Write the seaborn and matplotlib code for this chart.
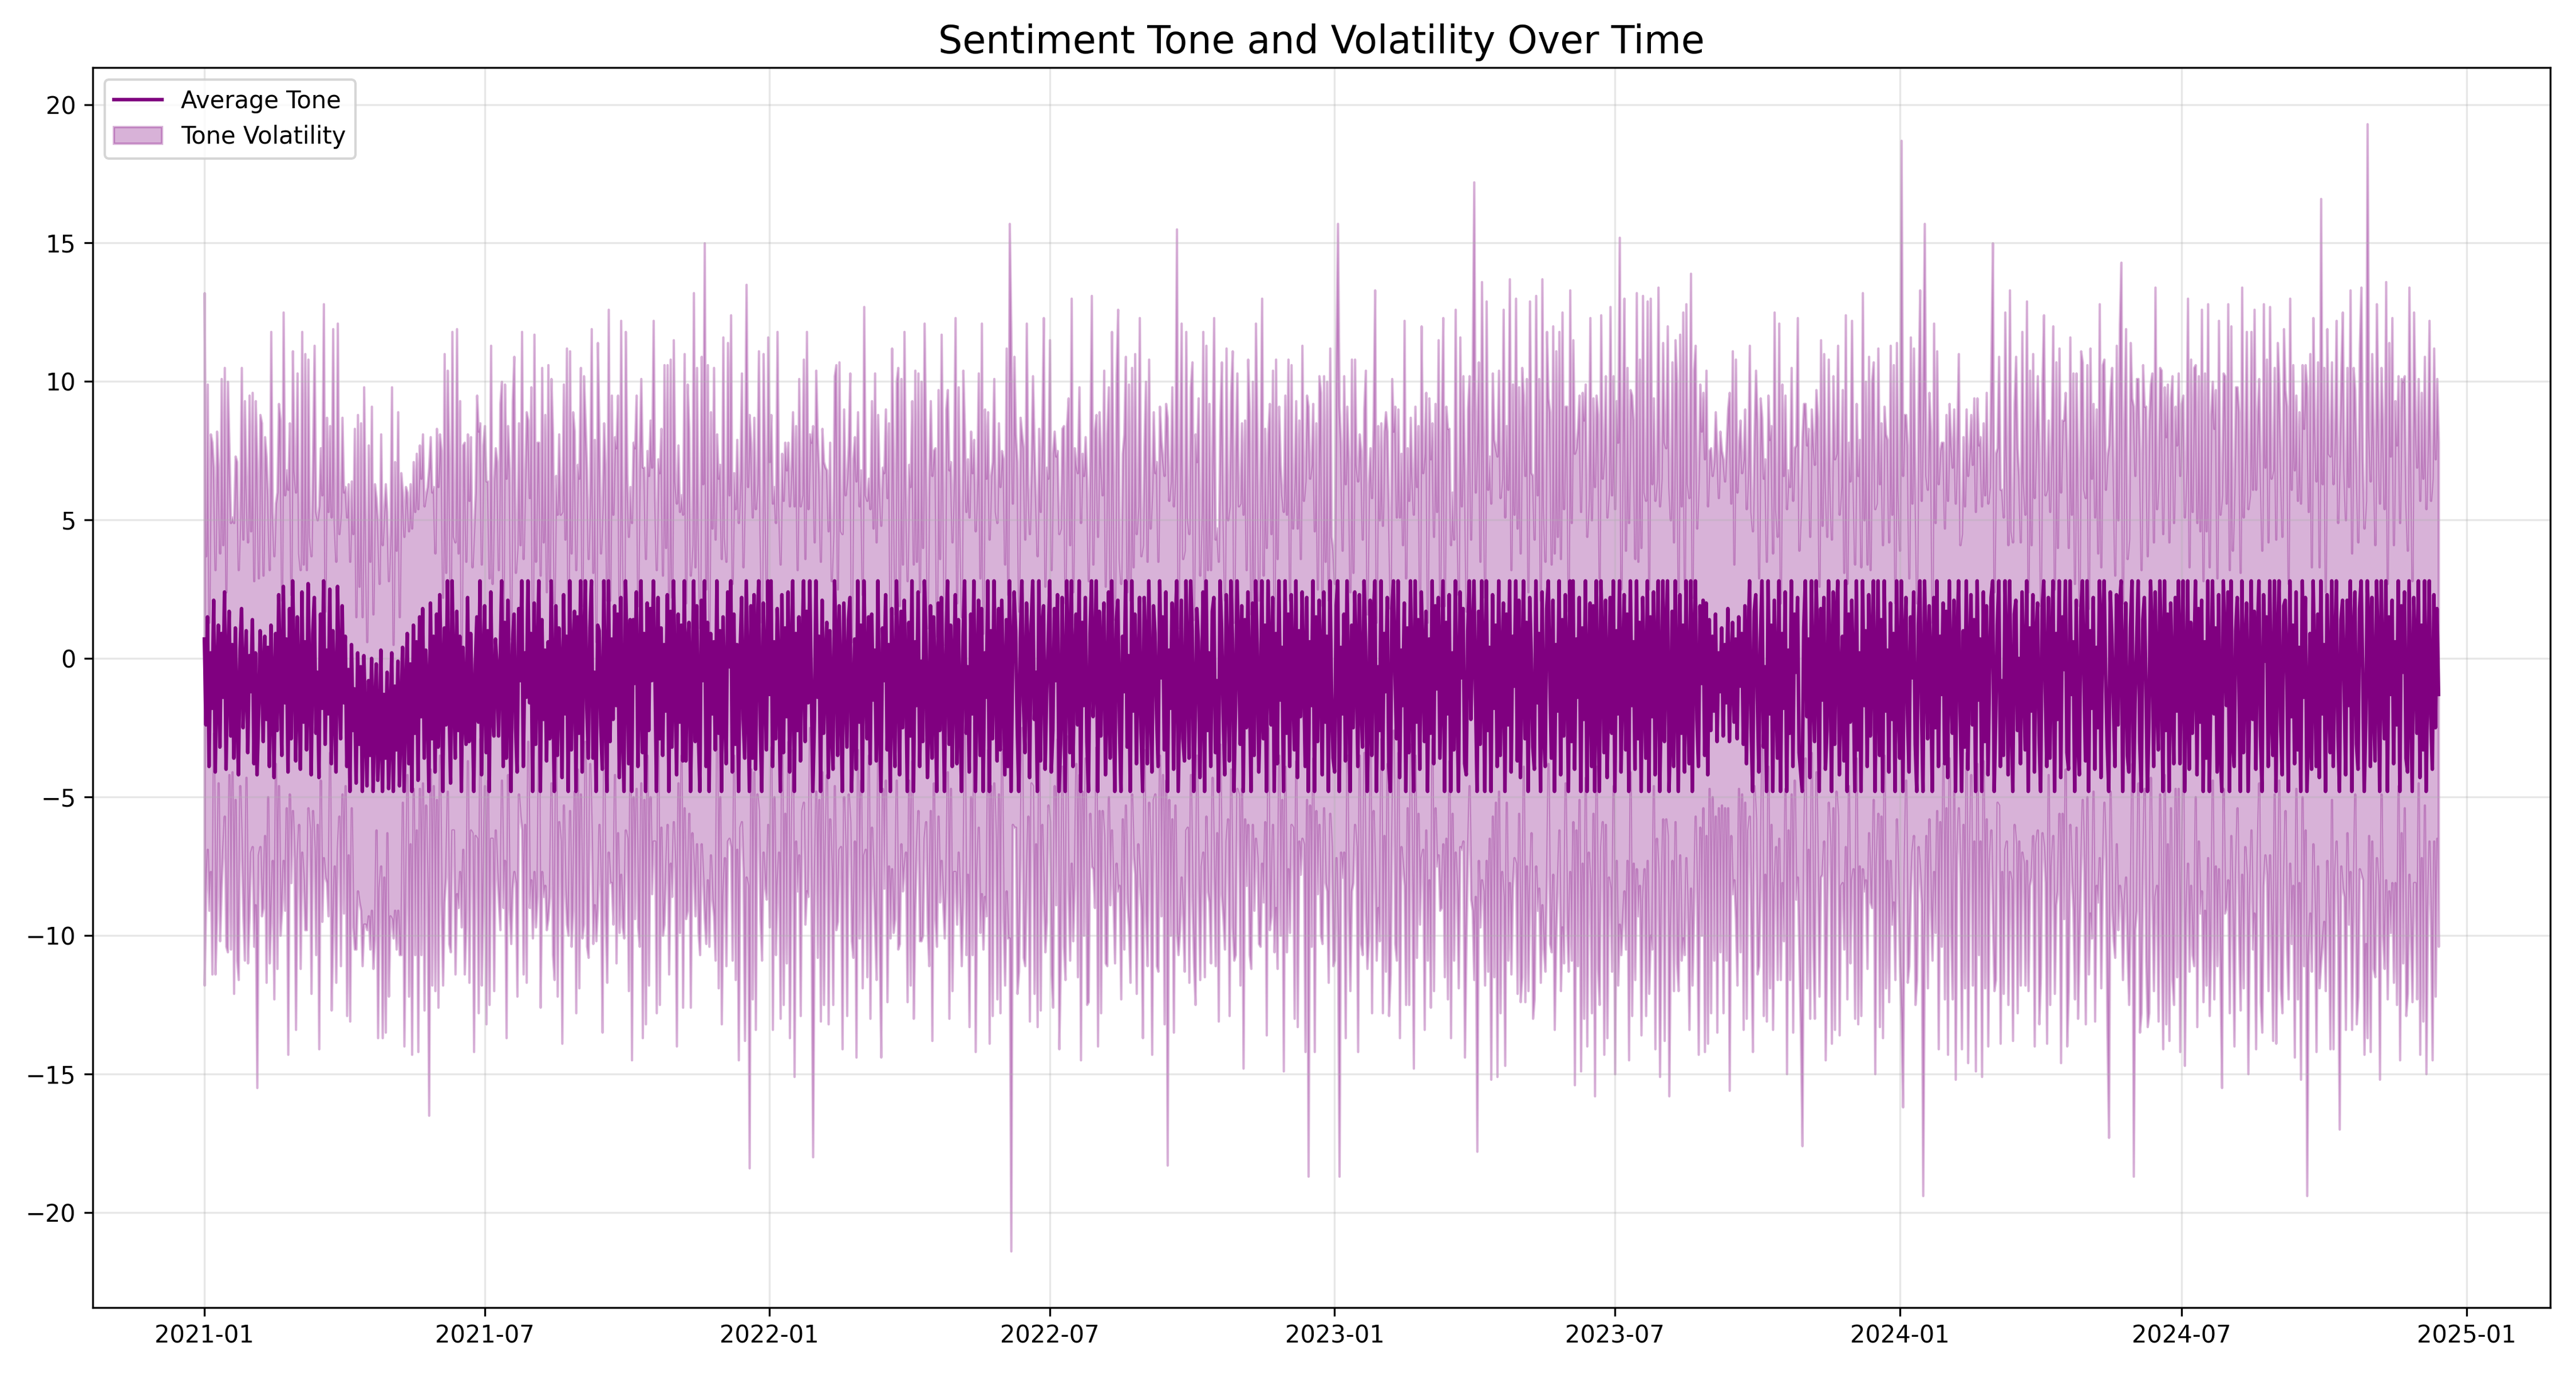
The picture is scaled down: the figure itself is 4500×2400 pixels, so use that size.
import matplotlib
matplotlib.use('Agg')
import numpy as np
import pandas as pd
import matplotlib.pyplot as plt
import seaborn as sns

# ==========================================
# DAILY SENTIMENT DATA (10 days per row)
# ==========================================
start_date = '2021-01-01'

# average tone per day (clipped at 2.8 / -4.8)
tone_2021 = [
    0.7, -2.4, 1.5, -3.9, 0.2, -1.8, 2.1, -4.1, -0.6, 1.2,
    -3.2, 0.9, -1.4, 2.4, -4.0, -0.3, 1.7, -2.8, 0.5, -3.6,
    1.1, -1.9, -4.2, 0.3, 1.8, -2.5, -0.8, 1.0, -3.4, 0.1,
    -1.2, 1.4, -3.8, 0.2, -4.2, -2.1, 1.0, -0.4, -3.0, 0.8,
    -2.2, 0.4, -3.9, 1.2, -1.0, -4.3, 0.9, -2.6, 2.3, -0.7,
    -3.5, 2.6, -1.6, 0.7, -4.1, 1.8, -2.9, 2.8, -0.2, -3.7,
    1.5, -1.1, -4.0, 2.4, -2.3, 0.6, -3.3, 2.7, -0.9, -4.2,
    0.9, 2.2, -2.7, -0.5, -4.3, 1.6, -1.8, 2.8, -3.1, 0.3,
    -2.0, 2.5, -3.8, 1.0, -1.3, -4.1, 2.6, -0.6, -2.9, 1.9,
    -1.6, 0.8, -3.9, -0.4, -4.8, 0.5, -2.6, -1.1, -4.5, 0.2,
    -3.1, -0.3, -4.8, 0.1, -2.2, -4.6, -0.8, -3.5, 0.0, -4.8,
    -1.9, -0.2, -4.4, -2.8, 0.3, -4.8, -1.3, -3.6, -0.5, -4.7,
    -2.4, 0.2, -4.8, -1.0, -3.3, -0.1, -4.6, -2.0, 0.4, -4.8,
    -1.5, 0.9, -3.8, -0.2, -4.8, 1.2, -2.7, 0.6, -4.4, 1.5,
    -2.1, 1.8, -3.6, 0.3, -1.2, -4.8, 2.0, -2.9, 0.8, -4.1,
    1.6, -3.2, 2.3, -0.7, -4.8, 1.1, -2.4, 2.8, -1.5, -4.5,
    2.8, -0.9, -3.6, 1.7, -2.6, 0.8, -4.8, 0.4, -1.8, -3.1,
    2.2, -3.0, 0.9, -1.5, -4.8, -0.2, 1.5, -2.3, 2.8, -4.2,
    -0.6, 1.9, -3.4, 1.0, -4.8, 2.4, -1.9, -2.8, 0.7, -0.3,
    -2.8, -0.3, 2.8, -3.9, 1.3, -3.6, 2.1, -1.1, -4.8, 0.5,
    1.6, -2.5, -4.1, 1.8, -0.8, 2.8, -3.9, 0.2, -1.4, 2.8,
    -1.6, 0.9, -4.8, 2.0, -3.1, -0.4, 2.8, -4.8, 1.4, -2.2,
    0.3, -3.7, 0.6, -2.9, 2.8, -1.3, -4.8, 1.9, -3.5, 1.1,
    -0.7, -4.3, 2.3, -2.0, 0.8, -4.8, 2.8, -3.3, -0.1, 1.7,
    -4.8, 1.5, -2.7, 2.8, -4.1, 0.3, 2.8, -1.8, -3.6, 1.1,
    2.8, -3.6, -0.5, -4.8, 1.2, 1.0, -2.4, -4.0, 2.8, -1.2,
    -4.8, 2.8, -3.0, 0.7, -2.2, 1.9, -1.7, 1.6, -4.3, 2.2,
    -2.2, -4.8, 2.8, 0.1, -3.8, 1.4, -4.8, 1.4, -0.9, 2.4,
    -3.9, -1.5, 2.8, -3.4, 0.9, -4.8, 2.0, -2.6, 1.8, -0.8,
    2.8, -0.4, -4.8, 2.2, -2.9, 1.1, -3.5, 0.5, -1.9, 2.3,
    -4.8, 1.7, -3.2, 2.8, -0.6, -4.2, 1.6, -2.3, 1.2, -3.7,
    2.8, -3.7, 0.4, 1.3, -4.8, -1.1, 2.8, -3.0, 1.9, -2.5,
    -4.8, 2.1, -0.8, 2.8, -3.9, 1.3, -4.8, 0.9, -2.0, 0.6,
    -3.3, 2.8, -2.7, 1.0, -4.8, 1.5, -1.4, -3.8, 2.4, -0.3,
    2.8, -4.1, 1.6, -3.1, 0.5, -4.8, 0.2, 2.2, -2.2, -3.6,
    2.8, -1.0, -4.8, 1.9, -3.6, 2.3, -4.0, 0.7, 2.8, -2.4,
    -4.8, 2.0, -0.5, -3.3, 2.8,
]

tone_2022 = [
    -1.3, 2.8, -3.9, 0.6, -2.9, 1.8, -0.7, -4.8, 2.3, -3.4,
    1.1, -2.1, 2.4, -4.1, -0.3, 2.8, -4.8, 0.9, -2.6, 1.5,
    -3.7, 0.2, 2.8, -3.0, 1.7, -1.6, 2.8, -0.9, -4.8, -2.2,
    2.8, -1.4, 0.8, -4.8, 2.1, -2.7, -0.2, 1.3, -4.3, 1.0,
    -2.4, -4.0, 2.8, 0.4, -3.5, 1.9, -1.1, -4.8, 2.0, -0.6,
    -3.2, 1.4, 2.2, -4.8, -1.8, 0.7, -4.0, 2.8, -2.3, 1.2,
    -4.8, 2.8, -0.5, -2.9, 1.5, -3.8, 1.6, -1.5, 0.3, -3.7,
    2.8, -2.0, -4.8, 1.1, -0.8, 2.3, -3.3, 0.5, -4.8, 1.8,
    -1.2, -3.9, 2.8, 0.0, -4.2, 1.7, -2.5, 2.1, -0.4, -4.8,
    1.3, -2.8, 2.8, -4.8, 0.6, -1.7, 2.4, -3.9, -0.1, -3.0,
    2.8, 0.9, -4.3, -2.2, 1.9, -3.6, 1.5, -0.9, -4.8, 2.0,
    -2.6, 2.2, -1.0, -4.8, 0.4, 2.8, -3.1, 1.2, -3.9, -0.5,
    2.3, -3.8, 1.4, -1.9, -4.8, 0.8, 2.8, -2.7, -0.3, -4.1,
    1.6, -2.0, 2.8, -4.8, -0.7, 2.1, -3.5, 1.8, -4.8, 0.2,
    -1.4, 2.8, -4.8, 1.0, -2.9, 2.8, -0.6, -3.7, 1.8, -3.3,
    2.1, -1.1, -4.2, 1.4, -3.9, 2.8, -4.8, -0.2, 2.4, 1.0,
    -2.5, -4.8, 0.7, 2.8, -1.6, -3.4, 2.0, 0.3, -4.3, 1.2,
    2.8, -2.2, -0.5, -4.8, 2.8, -3.7, 1.1, 1.9, -4.0, -1.3,
    0.6, 2.8, -4.1, -2.6, 1.8, -0.8, 2.3, -4.8, -3.1, 2.2,
    -1.0, -4.8, 2.8, 0.5, -3.4, 2.8, -3.9, -0.3, 1.6, -2.4,
    2.8, -4.8, 1.3, -1.7, 2.2, -3.0, -4.8, 0.9, 2.8, -2.1,
    -0.4, 2.8, -4.8, 1.7, -2.8, 0.2, 2.0, -4.2, -1.5, 2.4,
    -3.6, 2.8, -0.9, -4.8, 1.4, 2.1, -2.3, -4.8, 0.8, -1.2,
    2.8, -3.2, 0.1, -4.8, 2.8, -1.9, 1.6, -3.8, -0.6, 2.2,
    -2.7, -4.8, 2.2, 0.4, -3.8, 2.8, -1.3, -4.1, 1.9, 0.9,
    -2.0, -3.9, 2.8, -0.7, 1.5, -3.3, 2.4, -4.8, 0.3, -1.8,
    2.0, -4.0, 0.8, 2.8, -4.8, -1.4, 2.1, -2.9, -3.7, 2.8,
    -0.5, -3.6, 2.8, 1.0, -4.8, -2.2, 1.8, 0.6, -4.3, -1.1,
    2.4, -4.8, 2.8, -2.6, 0.2, -3.9, 1.7, 2.2, -3.4, -0.8,
    -4.8, 2.8, 1.1, -2.0, -4.2, 2.3, -0.4, -3.7, 2.8, 0.7,
    -4.8, -1.6, 2.8, 0.3, -3.1, 1.9, -4.8, 1.4, -2.5, 2.4,
    -0.9, -4.8, 2.0, -3.5, 2.8, 0.5, -4.1, -1.8, 2.8, -2.9,
    1.2, -4.8, 2.8, -0.3, -2.4, 2.2, -4.8, 0.9, -3.8, 2.8,
    -1.5, 0.4, -4.8, 2.8, -2.7, 1.6, -3.9, 2.3, -0.7, -3.3,
    2.8, -4.3, 1.0, -2.1, 2.4, -0.5, -3.9, 2.2, -4.8, 0.6,
    -1.7, 2.8, -4.8, 1.5, -3.0, 2.1, -0.2, -4.2, 2.4, -2.3,
    0.8, -4.8, 2.8, -1.2, -3.6,
]

tone_2023 = [
    -4.1, 1.9, 2.8, -4.8, 0.4, -2.0, 1.6, -3.7, 2.8, -0.9,
    -4.8, 1.2, -2.5, 2.4, 0.1, -3.9, 2.3, -1.4, -3.2, 2.8,
    0.6, -4.8, -1.9, 2.1, -3.5, 1.5, 2.8, -4.8, -0.3, -2.6,
    2.8, -4.0, 0.9, -1.2, 2.2, -3.9, -4.8, 1.8, 2.8, -0.6,
    -2.9, 2.8, -4.3, 0.3, -1.7, 2.0, -4.8, 1.1, -3.4, 2.8,
    -0.8, -4.8, 2.8, -2.3, 1.4, -4.0, 2.4, -0.1, -3.0, 1.7,
    -4.8, 0.7, -2.7, 2.8, -3.8, 1.9, -1.1, 2.2, -3.6, -0.4,
    2.8, -4.8, 1.3, -2.0, 2.3, -4.8, 0.2, -3.3, 2.8, -1.5,
    -4.8, 2.4, -0.7, 1.8, -3.8, -4.2, 1.0, 2.8, -2.2, 0.5,
    2.8, -1.3, -4.8, 1.7, -3.1, 2.8, -0.2, -4.8, 2.8, -2.6,
    0.4, -4.8, 2.3, -1.8, 1.2, -3.9, 2.8, -3.5, -0.6, 2.0,
    -4.8, 1.6, -2.4, 2.8, -4.1, 0.8, -1.0, 2.8, -3.7, 2.1,
    -4.3, -0.5, 2.8, -2.9, 1.3, -4.8, 2.2, 0.2, -3.2, -4.0,
    2.8, -1.6, 0.9, -4.8, 2.4, -2.5, -3.9, 1.8, 2.8, -0.7,
    -3.6, 2.1, -4.8, 0.5, -1.9, 2.8, -4.2, 1.4, -2.8, 2.3,
    -0.3, -4.8, 2.8, -3.0, 2.8, -4.0, 0.7, -1.4, 2.2, -4.8,
    1.1, -2.2, 2.8, -4.8, -0.6, 2.0, -3.9, 1.9, -4.8, 2.8,
    -1.2, -4.8, 2.8, 0.3, -3.4, 2.1, -4.3, -0.9, 2.2, -2.7,
    2.8, -4.8, 1.0, -2.0, 2.8, -4.1, -0.4, 2.3, -3.3, 1.6,
    -4.8, 2.8, -1.7, 0.6, -4.0, 2.8, -2.9, 1.3, -4.8, 2.2,
    -0.8, -3.6, 2.8, -4.8, 1.5, -2.1, 2.4, -4.2, 0.0, 2.8,
    -4.8, -1.3, 2.8, -3.0, 0.9, 2.8, -4.8, -2.4, 1.7, -3.9,
    2.8, -0.5, -4.8, 2.3, -2.7, 1.2, -4.1, 2.8, -1.6, -3.8,
    2.8, -4.8, 0.6, 2.8, -2.2, -3.9, 1.9, -0.9, 2.1, -3.5,
    2.0, -4.2, 1.4, -2.6, 0.8, -1.9, 1.6, -3.0, 0.2, -1.2,
    1.1, -2.8, 0.5, -1.6, 1.8, -3.0, -0.4, 1.3, -2.3, 0.7,
    -2.9, 1.5, -1.0, 0.9, -3.1, 1.9, -3.8, 0.4, 2.8, -2.5,
    -4.8, 1.7, 2.3, -1.4, -4.1, 0.6, 2.8, -3.2, -0.3, -4.8,
    2.8, -2.0, 1.2, -4.8, 2.1, -0.7, -3.6, 2.8, -4.8, 0.9,
    -1.8, 2.4, -4.8, 0.3, -2.7, 2.8, -3.9, 1.6, -0.5, 2.2,
    -3.4, -4.1, -4.8, 1.1, 2.8, -2.1, 0.7, -4.3, 2.8, -1.2,
    -3.0, 2.8, 0.4, -4.8, 1.8, -1.5, 2.2, -4.0, -2.6, 2.8,
    -0.2, -4.8, 2.4, -3.1, 1.3, 2.8, -4.2, -1.0, 0.8, -3.7,
    2.8, -4.8, 1.6, -2.3, 2.1, -0.6, -4.8, 2.8, -3.3, 0.2,
    -4.8, 2.8, -1.7, 1.0, -3.9, 2.3, -2.8, 0.5, 2.8, -4.8,
    -0.9, 2.8, -3.5, 1.4, -4.8, 2.8, -1.9, 0.3, -4.1, 2.0,
    -2.2, 0.9, -4.8, 2.8, -1.1,
]

tone_2024 = [
    -3.6, 2.8, -4.8, 0.6, 2.2, -2.0, -4.1, 1.5, -0.7, 2.4,
    -3.1, -4.8, 1.2, 2.8, -1.6, -4.8, 2.8, 0.1, -2.9, 1.9,
    -0.4, -4.8, 2.2, -2.5, 2.8, -3.9, 0.8, -1.3, 2.0, -3.8,
    1.7, -4.3, 2.8, -0.9, -2.7, 2.1, -4.8, 0.5, 2.8, -1.9,
    -4.8, 1.0, -3.2, 2.8, -4.0, -0.3, 2.3, -2.4, 1.4, -4.8,
    2.8, -1.5, 0.7, -4.8, 2.4, -3.0, 1.9, -4.2, -0.6, 2.2,
    2.8, -4.8, -2.1, 1.2, 2.8, -3.9, -0.8, -3.5, 2.8, 0.4,
    -4.2, 2.8, -1.7, -4.8, 1.6, 2.1, -2.6, 0.0, -3.8, 2.4,
    -0.5, -3.3, 2.8, -4.8, 1.1, -1.9, 2.3, -4.1, 0.7, 2.0,
    -2.8, -4.8, 1.8, 2.8, -1.1, -3.9, 2.2, -3.6, 0.3, 2.8,
    -4.8, 0.9, -2.2, 2.8, -4.3, 1.5, -0.4, 2.8, -3.4, -4.0,
    2.8, -1.3, 0.6, -4.8, 2.1, -2.9, -4.2, 1.7, 2.8, -0.8,
    -3.7, 2.8, -4.8, 1.0, -1.8, 2.2, -4.0, 0.4, -2.5, 2.8,
    -4.3, 1.3, 2.8, -0.6, -3.1, -4.8, 2.4, 0.8, -1.7, -3.9,
    2.3, -2.4, 1.9, 2.8, -4.8, -0.2, 2.0, -3.5, -4.1, 1.1,
    2.8, -4.8, -1.6, 0.5, 2.8, -3.0, -4.8, 1.4, 2.2, -0.9,
    -4.8, -2.1, 2.8, 0.9, -3.9, 2.4, -1.4, -3.3, 2.8, 0.2,
    -4.8, 2.8, -2.6, 1.6, -4.8, 2.0, -0.7, -3.8, 2.2, -1.9,
    2.8, -3.8, 0.4, 2.8, -4.8, -1.2, 2.8, -4.0, 1.3, -2.7,
    -0.3, 2.8, -4.2, 1.8, -2.3, 2.1, -4.8, 0.6, -3.6, 2.8,
    -4.8, -0.8, 2.8, -2.0, 1.1, -4.1, 2.3, -3.2, -4.8, 2.8,
    0.5, -1.7, 2.4, -4.8, 2.8, -2.9, -3.9, 1.0, 2.2, -0.6,
    -4.8, 2.8, -3.4, 0.3, 2.0, -4.8, -1.5, 2.8, -2.2, 1.7,
    -4.0, 0.8, 2.8, -2.8, -4.8, 2.3, -0.1, 1.5, -3.9, 2.8,
    -1.9, -3.5, 2.8, -4.8, 0.6, 2.8, -2.4, -4.2, 1.9, 2.1,
    -0.7, -4.8, 2.8, -2.1, 1.2, -3.8, 2.4, -3.3, 0.4, -4.8,
    2.8, -1.4, 2.2, -4.8, -2.7, 0.9, -4.0, 2.8, -0.3, -3.9,
    1.6, -4.3, 2.8, -2.0, 0.5, -4.8, 2.3, -1.1, -3.4, 2.8,
    -3.9, 0.2, 2.8, -2.6, -4.8, 1.4, 2.1, -0.9, -4.2, 2.1,
    -1.7, 2.8, -4.8, 0.7, 2.4, -3.1, -4.0, 1.8, 2.8, -0.4,
    -4.8, -2.3, 2.8, 1.0, -3.9, 2.2, -1.6, -3.7, 2.8, 0.3,
    -4.8, 2.8, -0.8, -2.9, 2.8, -4.8, 1.5, -1.3, 2.1, -3.8,
    0.6, -2.4, 2.8, -4.8, 1.9, -0.5, 2.4, -3.6, -4.1, 2.8,
    -1.0, -4.8, 2.2, 0.4, -2.7, 2.8, -4.3, 1.2, -3.3, 2.8,
    -4.8, -0.6, 2.8, -2.1, -4.0, 2.3, -2.5, 1.8, -1.3,
]

# daily spread of tone (standard deviation)
vol_2021 = [
    12.5, 6.1, 8.4, 5.2, 7.9, 9.6, 4.8, 7.3, 8.8, 5.7,
    7.0, 9.2, 5.5, 8.1, 6.4, 10.3, 5.9, 7.7, 4.6, 8.5,
    6.2, 9.0, 7.4, 4.9, 8.7, 6.8, 10.1, 5.3, 7.6, 9.4,
    5.8, 8.2, 6.6, 9.1, 11.3, 5.0, 7.8, 8.9, 6.0, 7.2,
    9.5, 5.4, 7.1, 10.6, 6.3, 8.0, 4.7, 8.6, 6.9, 9.3,
    5.6, 9.9, 7.5, 6.1, 10.2, 6.7, 5.2, 8.3, 7.0, 9.7,
    8.8, 4.9, 7.2, 9.4, 5.7, 10.4, 6.5, 8.1, 5.3, 7.9,
    6.4, 9.1, 8.0, 5.5, 9.8, 6.0, 7.7, 10.0, 4.8, 8.4,
    7.3, 5.9, 8.9, 10.9, 6.2, 7.6, 9.5, 5.1, 8.2, 6.8,
    7.6, 5.4, 9.0, 6.7, 8.3, 5.9, 7.1, 9.4, 6.0, 8.6,
    5.7, 8.8, 6.3, 9.7, 7.4, 5.2, 8.5, 7.0, 9.1, 6.4,
    8.2, 6.0, 9.3, 5.5, 7.8, 8.9, 6.6, 9.9, 5.8, 7.5,
    6.9, 9.6, 5.3, 8.1, 7.2, 9.0, 6.1, 8.7, 5.6, 9.2,
    7.7, 5.1, 8.4, 6.5, 9.5, 5.9, 8.0, 6.8, 9.8, 6.2,
    8.6, 6.3, 9.1, 5.6, 7.4, 11.7, 6.0, 8.9, 5.4, 7.9,
    6.7, 9.4, 5.8, 8.2, 7.0, 9.9, 5.5, 7.6, 8.8, 6.1,
    9.0, 5.3, 7.8, 10.2, 6.4, 8.5, 4.9, 7.3, 9.6, 6.6,
    5.9, 8.7, 7.1, 4.8, 9.4, 6.2, 8.0, 10.5, 5.7, 7.6,
    8.3, 6.5, 9.8, 5.4, 7.7, 8.9, 4.6, 9.2, 6.9, 7.4,
    6.0, 9.5, 7.2, 5.1, 8.6, 10.1, 6.3, 7.9, 5.5, 8.8,
    9.3, 5.6, 8.1, 6.7, 4.9, 9.0, 7.5, 6.2, 10.3, 5.8,
    7.4, 8.9, 5.3, 9.7, 6.6, 8.2, 5.0, 7.8, 9.1, 6.4,
    8.5, 6.1, 10.0, 5.7, 7.3, 9.4, 6.8, 4.7, 8.7, 7.0,
    5.9, 9.6, 7.6, 6.3, 10.4, 5.2, 8.3, 7.1, 9.0, 6.5,
    8.0, 5.5, 9.2, 7.7, 6.0, 9.9, 5.8, 8.6, 7.2, 4.9,
    9.1, 6.7, 8.4, 5.4, 10.2, 7.0, 6.2, 9.5, 5.7, 8.1,
    6.9, 9.8, 5.1, 8.8, 7.4, 6.1, 9.3, 7.9, 5.6, 10.0,
    7.5, 5.3, 9.0, 6.6, 8.2, 4.8, 9.7, 6.4, 8.5, 7.1,
    5.8, 8.9, 7.3, 10.3, 6.0, 8.4, 5.5, 9.2, 6.8, 7.7,
    9.4, 6.2, 8.0, 5.0, 9.6, 7.2, 6.5, 10.1, 5.9, 8.3,
    6.6, 9.1, 5.4, 8.7, 7.0, 9.8, 6.1, 7.6, 4.7, 8.9,
    8.2, 5.7, 9.5, 6.9, 7.8, 5.2, 10.4, 6.3, 8.6, 7.4,
    5.9, 8.8, 7.1, 12.2, 6.4, 9.3, 5.6, 8.0, 6.7, 9.9,
    7.6, 5.3, 9.2, 6.0, 8.4, 10.1, 5.8, 7.3, 9.0, 6.2,
    9.6, 6.8, 5.1, 8.5, 7.4, 9.7, 6.3, 8.1, 5.5, 10.2,
    10.7, 7.2, 13.6, 5.9, 8.7, 6.4, 9.4, 5.6, 8.3, 7.0,
    6.1, 9.0, 7.7, 5.4, 8.8,
]

vol_2022 = [
    8.4, 6.0, 9.5, 5.6, 7.8, 10.0, 6.3, 8.2, 5.1, 9.1,
    6.7, 8.9, 5.4, 9.6, 7.2, 6.1, 10.3, 7.5, 5.8, 8.6,
    9.2, 5.7, 8.0, 6.6, 10.1, 7.0, 5.3, 8.7, 13.2, 6.4,
    7.6, 9.4, 5.9, 8.3, 6.2, 9.8, 7.1, 5.5, 8.9, 6.8,
    5.2, 8.5, 7.4, 10.2, 6.0, 8.8, 5.7, 9.3, 7.0, 6.5,
    9.7, 6.3, 8.1, 5.4, 9.0, 7.3, 10.4, 6.1, 7.8, 5.6,
    7.1, 9.9, 6.4, 8.6, 5.0, 9.2, 7.7, 6.2, 10.0, 7.9,
    6.0, 8.3, 9.6, 5.8, 7.5, 6.7, 9.1, 8.0, 5.3, 9.4,
    8.7, 5.5, 7.2, 10.5, 6.1, 8.4, 5.9, 9.7, 6.6, 7.6,
    5.7, 9.0, 6.5, 8.2, 9.8, 5.2, 7.9, 6.3, 10.1, 7.0,
    9.3, 6.8, 5.4, 8.9, 7.4, 10.2, 6.0, 8.5, 5.6, 7.7,
    6.2, 9.5, 7.8, 5.3, 8.6, 6.9, 9.9, 5.9, 8.1, 7.2,
    10.0, 5.8, 8.4, 7.1, 6.3, 9.6, 5.5, 8.0, 7.5, 9.2,
    6.6, 8.7, 5.1, 9.4, 7.0, 8.2, 6.4, 10.3, 5.7, 8.8,
    7.9, 6.1, 9.1, 5.6, 10.0, 7.3, 5.9, 8.6, 6.7, 9.5,
    5.4, 8.3, 7.6, 9.8, 6.2, 12.9, 16.6, 5.8, 8.5, 7.1,
    9.6, 6.5, 8.0, 5.3, 9.2, 7.7, 10.1, 6.0, 8.8, 5.7,
    7.4, 9.9, 6.2, 8.5, 5.5, 9.0, 7.1, 10.4, 6.6, 8.2,
    5.9, 8.7, 7.3, 10.0, 6.4, 8.1, 5.2, 9.3, 7.8, 6.1,
    9.4, 6.8, 5.6, 8.9, 7.5, 10.2, 6.3, 7.9, 5.4, 9.1,
    7.0, 9.7, 6.1, 8.3, 5.8, 9.5, 7.6, 6.5, 10.3, 5.5,
    8.6, 6.0, 9.2, 7.2, 10.0, 5.7, 8.4, 6.8, 9.6, 7.4,
    5.3, 9.0, 7.8, 6.2, 8.8, 10.5, 5.9, 7.5, 6.6, 9.3,
    8.1, 5.6, 9.8, 6.9, 7.7, 5.2, 9.4, 8.3, 6.1, 10.1,
    6.4, 8.9, 5.5, 9.6, 7.3, 8.0, 6.0, 10.2, 7.0, 5.8,
    9.1, 7.4, 6.3, 8.6, 5.7, 9.9, 6.8, 13.5, 5.4, 8.2,
    7.8, 9.5, 6.1, 12.7, 5.9, 8.4, 10.0, 6.5, 7.6, 9.0,
    5.6, 8.1, 7.0, 9.7, 6.2, 10.3, 5.3, 8.8, 7.3, 6.4,
    9.4, 6.7, 8.5, 5.8, 9.0, 7.1, 6.0, 10.1, 7.7, 5.5,
    8.3, 5.9, 9.6, 7.4, 6.3, 8.9, 5.4, 9.2, 6.8, 10.4,
    6.1, 9.1, 7.5, 5.2, 8.7, 6.6, 10.0, 7.2, 5.7, 8.4,
    9.8, 6.4, 8.0, 5.6, 9.3, 7.7, 6.2, 8.6, 10.2, 5.9,
    7.1, 8.8, 5.3, 9.5, 6.9, 8.2, 5.8, 9.9, 7.4, 6.3,
    8.5, 5.5, 10.1, 6.7, 7.9, 9.2, 6.0, 8.3, 5.4, 9.7,
    6.5, 9.0, 7.6, 5.7, 8.9, 6.2, 10.3, 7.3, 13.9, 5.9,
    8.7, 6.4, 9.4, 7.0, 5.5, 8.1, 9.8, 6.1, 7.8, 5.8,
    9.2, 6.9, 8.4, 5.6, 7.5,
]

vol_2023 = [
    6.8, 9.1, 12.9, 13.9, 7.4, 5.9, 8.6, 10.0, 6.3, 8.1,
    7.2, 9.6, 5.6, 8.4, 6.9, 10.3, 5.8, 8.9, 7.5, 6.2,
    9.8, 6.4, 8.2, 5.5, 9.3, 7.0, 10.5, 6.1, 8.7, 7.6,
    5.7, 8.8, 7.3, 10.1, 6.0, 9.0, 6.6, 8.3, 5.4, 9.7,
    8.0, 6.2, 9.4, 7.1, 5.8, 10.2, 7.7, 6.5, 9.1, 5.9,
    7.4, 10.0, 6.3, 8.5, 7.0, 5.6, 9.6, 6.8, 10.4, 7.9,
    6.1, 8.7, 9.9, 5.7, 8.2, 7.3, 6.4, 9.3, 5.5, 8.6,
    9.5, 6.7, 7.8, 10.3, 6.0, 8.9, 5.8, 7.6, 9.8, 6.9,
    7.1, 9.2, 6.2, 8.4, 10.6, 5.9, 8.0, 7.4, 6.5, 9.6,
    14.4, 7.3, 13.0, 9.0, 6.6, 10.8, 8.2, 7.0, 10.1, 8.7,
    6.9, 10.4, 8.0, 9.7, 6.4, 11.2, 7.6, 9.3, 7.1, 10.6,
    9.9, 6.8, 8.5, 10.9, 7.3, 9.1, 6.2, 10.2, 8.4, 7.7,
    8.1, 11.0, 6.7, 9.5, 8.8, 7.2, 10.7, 6.5, 9.8, 8.3,
    10.3, 7.5, 9.2, 6.9, 11.3, 8.0, 7.4, 10.0, 6.6, 9.6,
    7.0, 9.9, 8.6, 10.6, 6.3, 9.0, 7.8, 11.1, 8.2, 6.8,
    9.4, 6.5, 10.5, 7.9, 8.7, 11.4, 6.9, 9.7, 7.3, 10.1,
    8.5, 10.8, 7.1, 9.2, 6.4, 10.3, 8.9, 7.5, 11.0, 6.7,
    10.0, 7.7, 9.6, 6.2, 10.9, 8.1, 9.4, 7.0, 10.5, 8.6,
    7.4, 10.2, 8.3, 9.8, 12.4, 6.6, 9.1, 10.7, 7.2, 8.9,
    9.7, 6.9, 11.2, 8.0, 7.6, 10.4, 6.4, 9.5, 8.8, 10.9,
    6.8, 9.3, 10.1, 7.3, 11.5, 8.4, 7.0, 9.9, 6.5, 10.6,
    10.3, 7.8, 8.6, 10.8, 6.7, 9.2, 11.0, 7.4, 9.0, 8.1,
    8.7, 10.5, 7.2, 9.4, 8.2, 11.3, 6.6, 10.0, 7.9, 9.6,
    11.1, 7.0, 9.8, 8.5, 6.9, 10.4, 8.0, 9.1, 7.5, 10.7,
    8.4, 9.7, 6.1, 10.2, 5.8, 9.0, 7.3, 10.5, 5.6, 9.4,
    6.4, 10.0, 5.9, 9.3, 7.2, 12.6, 6.0, 9.8, 5.7, 10.1,
    8.9, 6.2, 9.6, 5.8, 10.3, 7.1, 9.2, 6.6, 8.5, 7.8,
    9.4, 6.3, 8.1, 10.0, 7.0, 8.8, 5.9, 9.7, 7.5, 8.3,
    6.7, 9.9, 7.2, 8.6, 10.4, 6.1, 8.0, 9.3, 6.8, 9.0,
    8.4, 7.1, 10.2, 6.5, 8.9, 7.7, 9.6, 6.0, 8.2, 10.1,
    7.3, 9.5, 12.8, 8.1, 6.4, 9.8, 7.6, 8.7, 6.2, 9.2,
    10.0, 6.9, 8.3, 7.4, 9.7, 6.3, 8.8, 10.5, 7.0, 8.0,
    6.6, 9.1, 7.8, 10.3, 6.1, 8.5, 9.4, 7.2, 8.9, 6.8,
    9.6, 7.5, 6.2, 8.7, 10.1, 7.0, 8.2, 6.4, 9.9, 7.7,
    8.1, 10.4, 6.7, 9.0, 7.3, 8.6, 6.0, 9.5, 7.9, 10.2,
    6.5, 8.4, 9.8, 7.1, 8.9, 6.3, 10.0, 7.6, 8.3, 9.3,
    7.4, 9.7, 6.8, 8.6, 7.2,
]

vol_2024 = [
    7.5, 15.9, 11.4, 8.2, 6.6, 9.7, 7.0, 10.1, 6.3, 8.8,
    9.4, 6.8, 8.0, 10.5, 7.3, 14.6, 12.9, 6.5, 9.0, 7.7,
    8.6, 6.1, 9.9, 7.4, 8.3, 10.2, 6.7, 9.1, 5.8, 8.5,
    7.1, 10.0, 6.4, 8.8, 9.6, 6.9, 10.4, 7.6, 8.2, 6.0,
    9.3, 7.0, 8.7, 6.2, 10.6, 7.8, 6.5, 9.4, 8.0, 10.1,
    6.6, 9.2, 7.3, 10.3, 6.1, 8.9, 7.7, 9.8, 6.8, 8.4,
    12.2, 7.2, 9.5, 6.4, 8.1, 10.0, 6.9, 8.6, 9.7, 7.0,
    8.3, 10.5, 6.3, 9.0, 7.6, 8.8, 10.2, 6.6, 8.0, 9.4,
    6.9, 8.5, 10.1, 7.2, 9.3, 6.0, 8.7, 9.9, 7.4, 8.2,
    10.4, 6.7, 8.1, 9.6, 7.0, 10.0, 6.4, 8.9, 7.8, 9.2,
    7.3, 9.8, 6.2, 8.4, 10.3, 7.1, 9.0, 6.8, 10.6, 8.0,
    8.8, 6.5, 9.7, 7.5, 8.2, 10.1, 6.1, 9.4, 7.9, 6.9,
    9.5, 7.8, 6.6, 10.2, 8.3, 7.0, 9.1, 8.6, 6.3, 10.0,
    7.6, 9.3, 8.0, 6.7, 10.4, 12.5, 7.2, 9.7, 8.5, 6.9,
    9.0, 7.4, 10.1, 11.5, 6.8, 8.7, 9.9, 7.1, 8.4, 10.3,
    6.6, 13.9, 8.2, 9.6, 7.3, 10.5, 8.0, 9.2, 6.9, 10.0,
    8.5, 10.7, 7.1, 9.4, 8.1, 11.0, 6.8, 9.8, 7.7, 10.2,
    9.3, 7.0, 10.6, 8.3, 9.0, 7.4, 10.9, 8.7, 6.9, 9.6,
    7.5, 10.4, 8.8, 6.7, 9.9, 8.1, 10.2, 7.3, 9.5, 8.0,
    10.8, 7.8, 9.1, 8.4, 6.9, 10.5, 7.6, 9.7, 8.2, 10.0,
    8.1, 9.6, 7.2, 10.3, 8.6, 7.0, 9.9, 8.4, 10.7, 7.5,
    9.7, 7.3, 10.4, 8.0, 9.2, 6.8, 10.1, 8.8, 7.6, 9.5,
    7.9, 10.6, 8.5, 7.1, 9.8, 10.2, 7.4, 9.0, 8.3, 10.9,
    10.1, 8.0, 7.3, 9.6, 8.7, 10.5, 7.0, 9.3, 8.1, 9.9,
    8.4, 10.3, 7.7, 9.1, 10.8, 7.2, 9.5, 8.6, 10.0, 7.6,
    9.8, 7.5, 10.2, 8.2, 9.4, 10.6, 7.1, 9.0, 8.5, 10.4,
    7.8, 9.7, 8.4, 14.6, 8.0, 10.1, 7.3, 9.5, 8.8, 10.3,
    9.1, 7.6, 13.8, 8.3, 10.0, 7.2, 9.6, 8.5, 10.7, 7.9,
    10.2, 8.1, 9.4, 7.5, 12.2, 8.9, 10.4, 7.7, 9.2, 8.4,
    7.9, 10.5, 8.6, 9.8, 7.3, 10.1, 8.2, 9.4, 10.6, 7.6,
    9.5, 8.0, 16.5, 7.4, 10.3, 8.8, 9.6, 7.8, 10.0, 8.5,
    10.4, 7.7, 9.2, 8.3, 10.8, 7.5, 9.9, 8.6, 10.2, 7.9,
    8.7, 10.1, 7.4, 9.7, 8.2, 10.5, 7.8, 9.3, 8.0, 10.6,
    9.0, 7.6, 10.3, 8.5, 9.6, 7.3, 10.0, 8.4, 9.8, 8.1,
    10.2, 8.6, 9.4, 7.8, 10.5, 8.9, 9.7, 8.3, 9.1,
]

avg_tone = tone_2021 + tone_2022 + tone_2023 + tone_2024
tone_std = vol_2021 + vol_2022 + vol_2023 + vol_2024
n_days = min(len(avg_tone), len(tone_std))
print(f"tone days: {len(avg_tone)}, std days: {len(tone_std)}")

df = pd.DataFrame({
    'date': pd.date_range(start_date, periods=n_days, freq='D'),
    'avg_tone': avg_tone[:n_days],
    'tone_std': tone_std[:n_days],
})

# ==========================================
# PLOT
# ==========================================
fig, ax = plt.subplots(figsize=(15, 8))
sns.lineplot(data=df, x='date', y='avg_tone', color='purple', label='Average Tone', ax=ax)
ax.fill_between(df['date'], df['avg_tone'] - df['tone_std'], df['avg_tone'] + df['tone_std'],
                color='purple', alpha=0.3, label='Tone Volatility')
ax.set_title('Sentiment Tone and Volatility Over Time', fontsize=16)
ax.set_xlabel('')
ax.set_ylabel('')
ax.legend(loc='upper left')
ax.grid(True, alpha=0.3)
plt.tight_layout()
plt.savefig('out.png', dpi=300)
